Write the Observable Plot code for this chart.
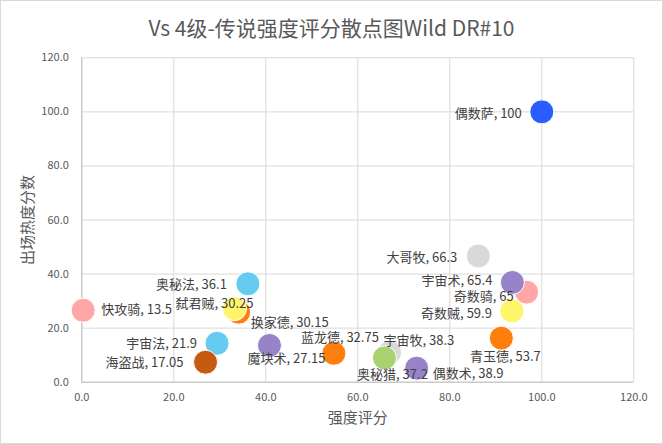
<!DOCTYPE html>
<html><head><meta charset="utf-8">
<script src="https://cdn.jsdelivr.net/npm/d3@7"></script>
<script src="https://cdn.jsdelivr.net/npm/@observablehq/plot@0.6"></script>
<style>
body{margin:0;background:#fff}
#chart{width:663px;height:444px;box-sizing:border-box;border:1px solid #d9d9d9;overflow:hidden;background:#fff;font-family:"Noto Sans CJK SC","Noto Sans",sans-serif}
#title{height:49px;box-sizing:border-box;padding-top:12px;text-align:center;font-size:21px;line-height:28px;color:#595959}
</style></head><body>
<div id="chart"><div id="title">Vs 4级-传说强度评分散点图Wild DR#10</div></div>
<script>
// data (drawing order: later items on top)
const names    = ["偶数萨","大哥牧","奇数骑","宇宙术","奇数贼","青玉德","宇宙牧","奥秘猎","偶数术","蓝龙德","魔块术","换家德","弑君贼","奥秘法","快攻骑","宇宙法","海盗战"];
const strength = [100, 86.2, 96.7, 93.6, 93.5, 91.2, 66.9, 65.8, 72.8, 54.8, 40.8, 34.1, 33.2, 36.1, 0.3, 29.4, 26.9];
const heat     = [100, 46.7, 33.3, 36.9, 26.4, 16.3, 11.0, 9.0, 5.2, 10.7, 13.6, 25.9, 27.2, 36.4, 26.6, 14.4, 7.4];
const scores   = ["100","66.3","65","65.4","59.9","53.7","38.3","37.2","38.9","32.75","27.15","30.15","30.25","36.1","13.5","21.9","17.05"];
const classes  = ["萨满","牧师","圣骑士","术士","潜行者","德鲁伊","牧师","猎人","术士","德鲁伊","术士","德鲁伊","潜行者","法师","圣骑士","法师","战士"];
const ticks    = [0, 20, 40, 60, 80, 100, 120];

// styling (separate from data)
const classColors = {"萨满":"#2a5cff","牧师":"#d9d9d9","圣骑士":"#ffa6a6","术士":"#9784c8","潜行者":"#fff56b","德鲁伊":"#ff7f0e","猎人":"#a9d170","法师":"#66cbf0","战士":"#c55a11"};
const labelPlace = {
  "偶数萨":["end",-20,2], "大哥牧":["end",-21,2], "宇宙术":["end",-20,-2], "奇数骑":["end",-13,5],
  "奇数贼":["end",-20,3], "青玉德":["middle",4,19], "宇宙牧":["start",-6,-12], "奥秘猎":["middle",8,17],
  "偶数术":["start",16,6], "蓝龙德":["start",-33,-15], "魔块术":["start",-22,13], "换家德":["start",12,11],
  "弑君贼":["start",-59,-5], "奥秘法":["end",-21,1], "快攻骑":["start",18,0], "宇宙法":["end",-20,1], "海盗战":["end",-22,1]
};

const rows = names.map((n, i) => ({name: n, x: strength[i], y: heat[i], label: `${n}, ${scores[i]}`, cls: classes[i]}));
const fmt = d3.format(".1f");

const labelMarks = rows.map(r => {
  const [anchor, dx, dy] = labelPlace[r.name];
  return Plot.text([r], {x: "x", y: "y", text: "label", textAnchor: anchor, dx, dy, fill: "#404040", fontSize: 13});
});

const chart = Plot.plot({
  width: 661,
  height: 393,
  marginLeft: 80.3,
  marginRight: 28.7,
  marginTop: 7.3,
  marginBottom: 61.3,
  style: {fontFamily: '"Noto Sans CJK SC","Noto Sans",sans-serif', background: "transparent", overflow: "visible"},
  x: {domain: [0, 120]},
  y: {domain: [0, 120]},
  marks: [
    Plot.gridX(ticks, {stroke: "#d9d9d9", strokeOpacity: 1}),
    Plot.gridY(ticks, {stroke: "#d9d9d9", strokeOpacity: 1}),
    Plot.ruleX([0], {stroke: "#bfbfbf"}),
    Plot.ruleY([0], {stroke: "#bfbfbf"}),
    Plot.axisX({ticks, tickFormat: fmt, tickSize: 0, tickPadding: 11, fontSize: 11, fill: "#595959", label: null}),
    Plot.axisY({ticks, tickFormat: fmt, tickSize: 0, tickPadding: 13, fontSize: 11, fill: "#595959", label: null}),
    Plot.text(["强度评分"], {frameAnchor: "bottom", textAnchor: "middle", lineAnchor: "middle", dy: 36, fontSize: 15, fill: "#595959"}),
    Plot.text(["出场热度分数"], {frameAnchor: "left", textAnchor: "middle", lineAnchor: "middle", dx: -54, rotate: -90, fontSize: 15, fill: "#595959"}),
    Plot.dot(rows, {x: "x", y: "y", r: 12, fill: d => classColors[d.cls], stroke: "white", strokeWidth: 1}),
    ...labelMarks
  ]
});
document.getElementById("chart").appendChild(chart);
</script>
</body></html>
